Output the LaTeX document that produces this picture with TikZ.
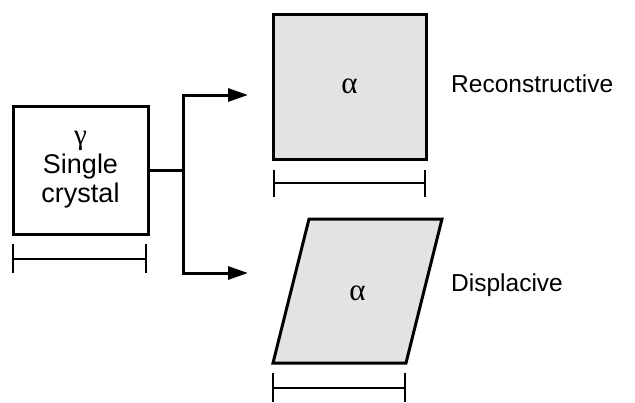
\documentclass[tikz,border=0pt]{standalone}
\usepackage{fontspec}
\setmainfont{Liberation Sans}
\newfontfamily\greekfont{Liberation Serif}
\usetikzlibrary{arrows.meta}
\definecolor{phasefill}{HTML}{E3E3E3}
\begin{document}
\begin{tikzpicture}[x=1pt,y=-1pt,
  boxline/.style={line width=3pt},
  scalebar/.style={line width=1.8pt},
  conn/.style={line width=3pt},
  arr/.style={conn,-{Triangle[length=20pt,width=13pt]}},
  lbl/.style={font=\fontsize{24.5}{29}\selectfont,anchor=west,inner sep=0pt}
]
\useasboundingbox (0,0) rectangle (635,402);
% gamma single crystal
\node[boxline,draw,minimum width=135pt,minimum height=128pt,inner sep=0pt,
  align=center,font=\fontsize{27}{29}\selectfont] (sc) at (80.5,170)
  {{\fontsize{29}{29}\selectfont\greekfont γ}\\Single\\crystal};
% reconstructive alpha
\node[boxline,draw,fill=phasefill,minimum width=153pt,minimum height=145pt,inner sep=0pt] (ra) at (349.5,86.5)
  {\fontsize{31}{31}\selectfont\greekfont α};
% displacive alpha
\coordinate (p1) at (309,219);
\coordinate (p2) at (442,219);
\coordinate (p3) at (406,363);
\coordinate (p4) at (273,363);
\draw[boxline,fill=phasefill] (p1) -- (p2) -- (p3) -- (p4) -- cycle;
\node[inner sep=0pt] (da) at (357.5,293) {\fontsize{31}{31}\selectfont\greekfont α};
% labels
\node[lbl] (rl) at (451,84) {Reconstructive};
\node[lbl] (dl) at (451,285) {Displacive};
% connectors
\coordinate (j) at (183,170);
\coordinate (t1) at (248,95);
\coordinate (t2) at (248,273);
\draw[conn] (sc.east) -- (j);
\draw[arr] (j) |- (t1);
\draw[arr] (j) |- (t2);
% scale bars
\draw[scalebar] (13,259) -- (146,259) (13,244) -- (13,273) (146,244) -- (146,273);
\draw[scalebar] (274,183) -- (425,183) (274,170) -- (274,197) (425,170) -- (425,197);
\draw[scalebar] (273,388) -- (405,388) (273,373) -- (273,402) (405,373) -- (405,402);
\end{tikzpicture}
\end{document}
